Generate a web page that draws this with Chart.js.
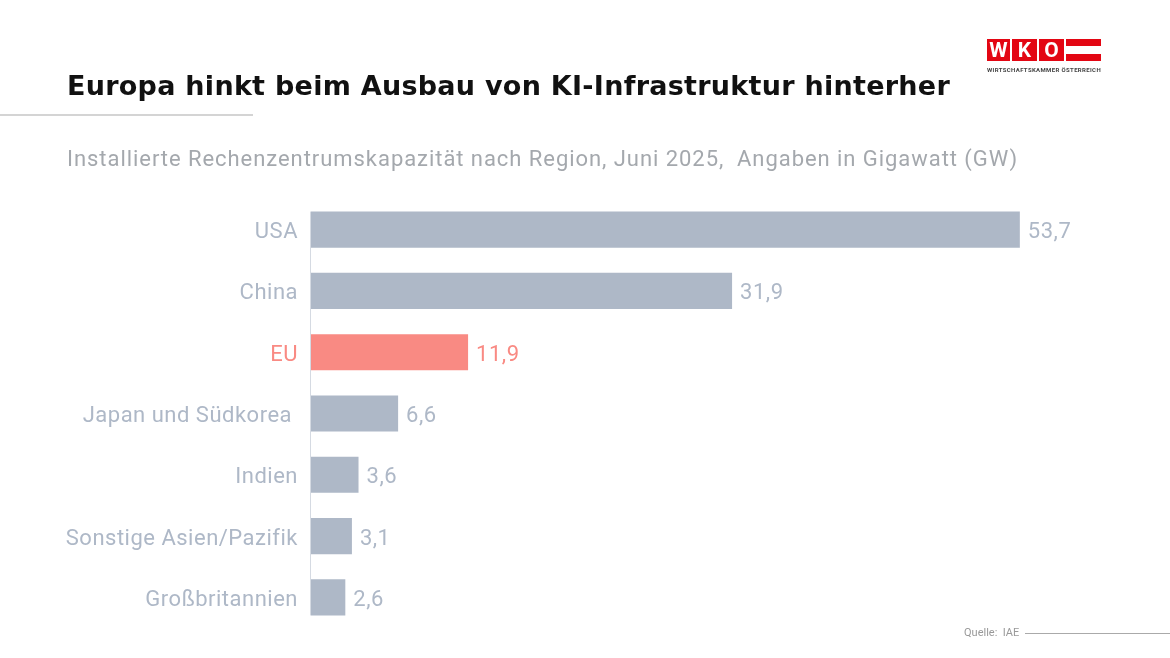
<!DOCTYPE html>
<html>
<head>
<meta charset="utf-8">
<script src="https://cdn.jsdelivr.net/npm/chart.js@4"></script>
<style>
  body { margin: 0; width: 1170px; height: 658px; background: #fff; position: relative; overflow: hidden; font-family: Roboto, sans-serif; }
  #title { position: absolute; left: 67px; top: 70px; font-family: 'DejaVu Sans', sans-serif; font-size: 27px; line-height: 32px; font-weight: 700; color: #111; white-space: nowrap; }
  #rule { position: absolute; left: 0; top: 114px; width: 253px; height: 2px; background: #d4d4d4; }
  #sub { position: absolute; left: 67px; top: 146px; font-size: 22px; line-height: 26px; color: #a4a8ad; white-space: nowrap; }
  #src { position: absolute; left: 964px; top: 626px; font-size: 11px; color: #999; }
  #srcline { position: absolute; left: 1025px; top: 633px; width: 145px; height: 1px; background: #aaa; }
  #wrap { position: absolute; left: 0; top: 0; width: 1170px; height: 658px; }
  .logo { position: absolute; top: 39px; height: 22px; background: #e30613; color: #fff; font-weight: 700; font-size: 21px; text-align: center; line-height: 22px; }
  .stripe { position: absolute; left: 1066px; width: 35px; height: 7px; background: #e30613; }
  #logotext { position: absolute; left: 987px; top: 66px; font-size: 6px; font-weight: 700; color: #444; white-space: nowrap; }
</style>
</head>
<body>
<div id="wrap"><canvas id="myChart"></canvas></div>
<div id="title">Europa hinkt beim Ausbau von KI-Infrastruktur hinterher</div>
<div id="rule"></div>
<div id="sub">Installierte Rechenzentrumskapazität nach Region, Juni 2025,&nbsp; Angaben in Gigawatt (GW)</div>
<div class="logo" style="left:987px;width:23px">W</div>
<div class="logo" style="left:1012px;width:25px">K</div>
<div class="logo" style="left:1039px;width:25px">O</div>
<div class="stripe" style="top:39px"></div>
<div class="stripe" style="top:54px"></div>
<div id="logotext">WIRTSCHAFTSKAMMER ÖSTERREICH</div>
<div id="src">Quelle:&nbsp; IAE</div>
<div id="srcline"></div>
<script>
let regions = ['USA', 'China', 'EU', 'Japan und Südkorea ', 'Indien', 'Sonstige Asien/Pazifik', 'Großbritannien'];
let capacity = [53.7, 31.9, 11.9, 6.6, 3.6, 3.1, 2.6];

let grey = '#aeb8c7';
let red = '#f98a83';
let colors = regions.map((r) => r == 'EU' ? red : grey);

// stretch a text line to the width it has in the original
function fitWidth(id, target) {
  let el = document.getElementById(id);
  let w = el.getBoundingClientRect().width;
  let n = el.textContent.length;
  el.style.letterSpacing = ((target - w) / n) + 'px';
}
fitWidth('title', 883);
fitWidth('sub', 951);
fitWidth('logotext', 114);

// category labels, value labels and short axis line
let extras = {
  id: 'extras',
  afterDatasetsDraw(chart) {
    let ctx = chart.ctx;
    let meta = chart.getDatasetMeta(0);
    ctx.save();
    ctx.font = '22px Roboto';
    ctx.letterSpacing = '0.5px';
    ctx.textBaseline = 'middle';
    meta.data.forEach((bar, i) => {
      ctx.fillStyle = colors[i];
      ctx.textAlign = 'left';
      ctx.fillText(capacity[i].toFixed(1).replace('.', ','), bar.x + 8, bar.y + 3);
      ctx.textAlign = 'right';
      ctx.fillText(regions[i], chart.chartArea.left - 13, bar.y + 3);
    });
    let first = meta.data[0];
    let last = meta.data[meta.data.length - 1];
    ctx.strokeStyle = '#d5dae2';
    ctx.lineWidth = 1;
    ctx.beginPath();
    ctx.moveTo(chart.chartArea.left - 0.5, first.y - first.height / 2);
    ctx.lineTo(chart.chartArea.left - 0.5, last.y + last.height / 2);
    ctx.stroke();
    ctx.restore();
  }
};

let ctx = document.getElementById('myChart').getContext('2d');
let chart = new Chart(ctx, {
  type: 'bar',
  data: {
    labels: regions,
    datasets: [{
      data: capacity,
      backgroundColor: colors,
      categoryPercentage: 1,
      barPercentage: 0.59
    }]
  },
  options: {
    indexAxis: 'y',
    responsive: true,
    maintainAspectRatio: false,
    animation: false,
    layout: { padding: { top: 199, bottom: 30, right: 67, left: 0 } },
    plugins: { legend: { display: false }, tooltip: { enabled: false } },
    scales: {
      x: { display: false, min: 0, max: 60 },
      y: {
        grid: { display: false },
        border: { display: false },
        ticks: { display: false },
        afterFit(scale) { scale.width = 311; }
      }
    }
  },
  plugins: [extras]
});
</script>
</body>
</html>
